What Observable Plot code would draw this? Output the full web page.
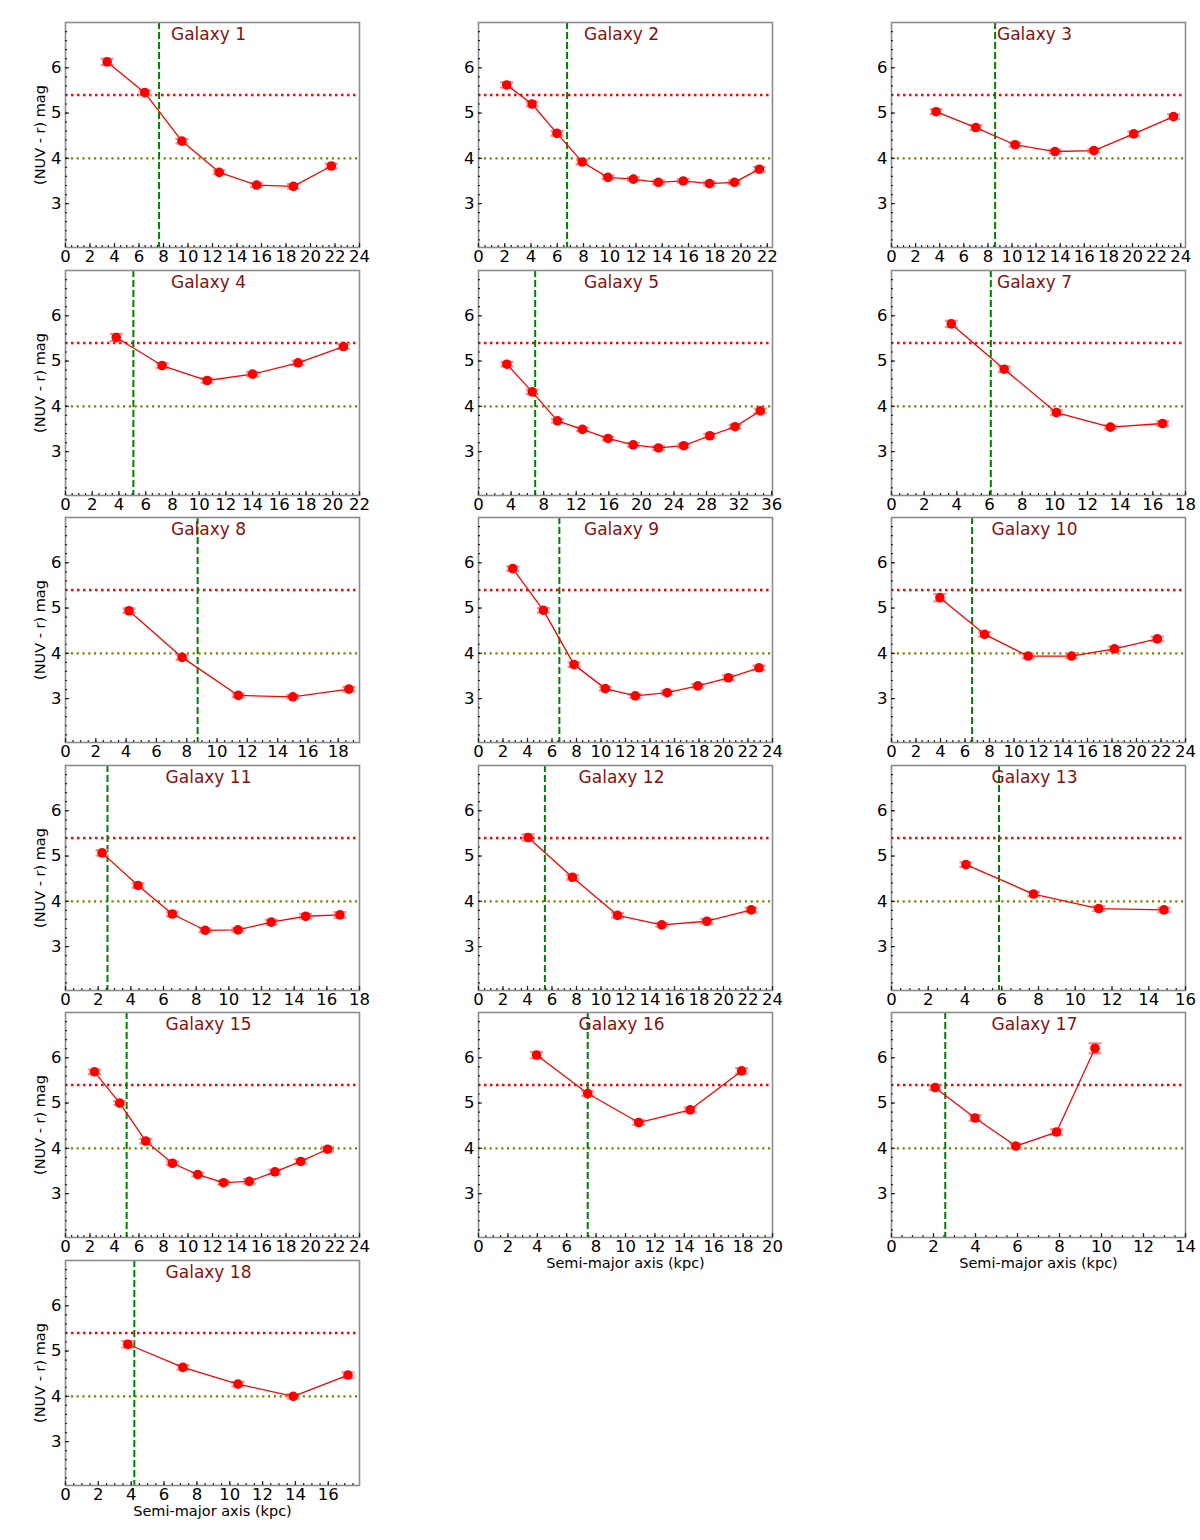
<!DOCTYPE html>
<html>
<head>
<meta charset="utf-8">
<script src="https://cdn.jsdelivr.net/npm/d3@7"></script>
<script src="https://cdn.jsdelivr.net/npm/@observablehq/plot@0.6"></script>
<style>
  body { margin: 0; background: white; }
  #chart { position: relative; width: 1200px; height: 1540px; background: white; overflow: visible; }
  #chart > div { position: absolute; width: 413px; }
  #chart svg { max-width: none !important; }
</style>
</head>
<body>
<div id="chart"></div>
<script>
// one panel per galaxy
const galaxies = ["Galaxy 1", "Galaxy 2", "Galaxy 3", "Galaxy 4", "Galaxy 5", "Galaxy 7",
  "Galaxy 8", "Galaxy 9", "Galaxy 10", "Galaxy 11", "Galaxy 12", "Galaxy 13",
  "Galaxy 15", "Galaxy 16", "Galaxy 17", "Galaxy 18"];

// semi-major axis (kpc)
const radius = [
  [3.4, 6.47, 9.5, 12.55, 15.6, 18.6, 21.7],
  [2.15, 4.08, 5.98, 7.9, 9.86, 11.8, 13.7, 15.6, 17.6, 19.5, 21.4],
  [3.7, 7.0, 10.26, 13.57, 16.8, 20.1, 23.4],
  [3.8, 7.23, 10.6, 14.0, 17.4, 20.8],
  [3.48, 6.6, 9.7, 12.77, 15.9, 19.0, 22.1, 25.2, 28.4, 31.5, 34.6],
  [3.66, 6.9, 10.1, 13.4, 16.6],
  [4.19, 7.7, 11.4, 15.0, 18.7],
  [2.8, 5.3, 7.8, 10.35, 12.8, 15.4, 17.9, 20.4, 22.9],
  [3.95, 7.6, 11.15, 14.7, 18.2, 21.7],
  [2.24, 4.44, 6.54, 8.55, 10.56, 12.6, 14.7, 16.8],
  [4.05, 7.67, 11.35, 14.96, 18.64, 22.26],
  [4.05, 7.73, 11.28, 14.83],
  [2.37, 4.43, 6.55, 8.73, 10.8, 12.9, 15.0, 17.1, 19.2, 21.4],
  [3.95, 7.43, 10.9, 14.4, 17.9],
  [2.08, 3.98, 5.92, 7.86, 9.69],
  [3.79, 7.15, 10.5, 13.87, 17.2]
];

// (NUV - r) colour (mag)
const colour = [
  [6.13, 5.45, 4.38, 3.69, 3.41, 3.38, 3.83],
  [5.62, 5.2, 4.55, 3.92, 3.58, 3.54, 3.47, 3.5, 3.44, 3.47, 3.76],
  [5.03, 4.68, 4.3, 4.15, 4.17, 4.54, 4.92],
  [5.52, 4.9, 4.57, 4.71, 4.96, 5.32],
  [4.93, 4.32, 3.68, 3.49, 3.29, 3.15, 3.08, 3.13, 3.35, 3.55, 3.9],
  [5.82, 4.82, 3.86, 3.54, 3.62],
  [4.94, 3.91, 3.07, 3.04, 3.21],
  [5.87, 4.95, 3.75, 3.22, 3.06, 3.13, 3.28, 3.46, 3.68],
  [5.23, 4.42, 3.94, 3.94, 4.1, 4.32],
  [5.07, 4.35, 3.72, 3.36, 3.37, 3.54, 3.67, 3.7],
  [5.41, 4.53, 3.69, 3.48, 3.56, 3.81],
  [4.81, 4.16, 3.84, 3.81],
  [5.69, 5.0, 4.16, 3.67, 3.42, 3.24, 3.27, 3.48, 3.71, 3.98],
  [6.06, 5.21, 4.57, 4.85, 5.71],
  [5.34, 4.67, 4.05, 4.36, 6.21],
  [5.15, 4.64, 4.27, 4.0, 4.47]
];

// colour errors (mag)
const colourErr = [
  [0.07, 0.05, 0.05, 0.04, 0.04, 0.05, 0.05],
  [0.06, 0.05, 0.05, 0.05, 0.04, 0.04, 0.04, 0.04, 0.04, 0.04, 0.05],
  [0.05, 0.05, 0.04, 0.04, 0.04, 0.05, 0.05],
  [0.08, 0.05, 0.05, 0.05, 0.05, 0.05],
  [0.05, 0.05, 0.04, 0.04, 0.04, 0.04, 0.04, 0.04, 0.04, 0.04, 0.05],
  [0.07, 0.06, 0.05, 0.04, 0.05],
  [0.05, 0.05, 0.04, 0.04, 0.05],
  [0.05, 0.05, 0.05, 0.04, 0.04, 0.04, 0.04, 0.05, 0.05],
  [0.08, 0.05, 0.05, 0.05, 0.05, 0.05],
  [0.06, 0.05, 0.05, 0.04, 0.04, 0.05, 0.05, 0.06],
  [0.07, 0.05, 0.05, 0.04, 0.05, 0.05],
  [0.05, 0.05, 0.05, 0.05],
  [0.05, 0.04, 0.05, 0.04, 0.04, 0.04, 0.05, 0.05, 0.05, 0.05],
  [0.07, 0.05, 0.05, 0.05, 0.06],
  [0.05, 0.06, 0.05, 0.06, 0.11],
  [0.07, 0.05, 0.05, 0.05, 0.06]
];

// green dashed vertical line (kpc)
const transition = [7.64, 6.75, 8.6, 5.08, 6.96, 6.08, 8.72, 6.6, 6.58, 2.57, 5.42, 5.85, 4.99, 7.43, 2.56, 4.19];

// x axis extent and major tick step
const xMax = [24, 22.4, 24.4, 22, 36.1, 18, 19.4, 24, 24, 18, 24, 16, 24, 20, 14, 17.9];
const xStep = [2, 2, 2, 2, 4, 2, 2, 2, 2, 2, 2, 2, 2, 2, 2, 2];

const yDomain = [2.03, 7.0];
const yTicks = [3, 4, 5, 6];
const redLimit = 5.4;
const olivLimit = 4.0;

const xLabelPanels = ["Galaxy 16", "Galaxy 17", "Galaxy 18"];

const cap = {
  draw(ctx) { ctx.moveTo(-6.5, 0); ctx.lineTo(6.5, 0); }
};

const W = 413, fw = 294, fh = 225, mt = 22, mb = 55;
const rowStep = 247.6;

galaxies.forEach((name, i) => {
  const col = i % 3, row = Math.floor(i / 3);
  const rows = radius[i].map((r, k) => ({r, c: colour[i][k], e: colourErr[i][k]}));
  const majorX = d3.range(0, xMax[i] + 1e-6, xStep[i]);
  const minorX = d3.range(0, xMax[i] + 1e-6, xStep[i] / 4);
  const minorY = d3.range(2.2, 7.0, 0.2);

  const marks = [
    Plot.ruleY([redLimit], {stroke: "#ff0000", strokeWidth: 2.5, strokeDasharray: "2.5,3.5"}),
    Plot.ruleY([olivLimit], {stroke: "#808000", strokeWidth: 2.2, strokeDasharray: "2.2,3.6"}),
    Plot.ruleX([transition[i]], {stroke: "#008000", strokeWidth: 2, strokeDasharray: "7,3"}),
    Plot.ruleX(rows, {x: "r", y1: d => d.c - d.e, y2: d => d.c + d.e, stroke: "#ff8080", strokeWidth: 1.5}),
    Plot.dot(rows, {x: "r", y: d => d.c - d.e, r: 3, symbol: cap, fill: "none", stroke: "#ff8a8a", strokeWidth: 2.2}),
    Plot.dot(rows, {x: "r", y: d => d.c + d.e, r: 3, symbol: cap, fill: "none", stroke: "#ff8a8a", strokeWidth: 2.2}),
    Plot.line(rows, {x: "r", y: "c", stroke: "#ff0000", strokeWidth: 1.3}),
    Plot.dot(rows, {x: "r", y: "c", r: 4.8, fill: "#ff0000"}),
    Plot.text([name], {frameAnchor: "top", text: d => d, dx: -4, dy: 12, lineAnchor: "middle",
      fill: "#8b0f0f", fontSize: 17}),
    Plot.frame({stroke: "#8c8c8c", strokeWidth: 1.6}),
    Plot.tickX(minorX, {x: d => d, insetTop: fh - 2, stroke: "#222", strokeWidth: 1.2}),
    Plot.tickX(majorX, {x: d => d, insetTop: fh - 4, stroke: "#222", strokeWidth: 1.2}),
    Plot.tickY(minorY, {y: d => d, insetRight: fw - 2, stroke: "#222", strokeWidth: 1.2}),
    Plot.tickY(yTicks, {y: d => d, insetRight: fw - 4, stroke: "#222", strokeWidth: 1.2}),
    Plot.axisX({ticks: majorX, tickSize: 0, tickPadding: 3, fontSize: 16.5, label: null, tickFormat: d => `${d}`}),
    Plot.axisY({ticks: yTicks, tickSize: 0, tickPadding: 4, fontSize: 16.5, label: null, tickFormat: d => `${d}`})
  ];
  if (col === 0) {
    marks.push(Plot.text(["(NUV - r) mag"], {frameAnchor: "left", text: d => d, rotate: -90, dx: -25,
      textAnchor: "middle", fontSize: 14.5, fill: "black"}));
  }
  if (xLabelPanels.includes(name)) {
    marks.push(Plot.text(["Semi-major axis (kpc)"], {frameAnchor: "bottom", text: d => d, dy: 26,
      lineAnchor: "middle", fontSize: 14.5, fill: "black"}));
  }

  const chart = Plot.plot({
    width: W,
    height: mt + fh + mb,
    marginLeft: 65,
    marginRight: W - 65 - fw,
    marginTop: mt,
    marginBottom: mb,
    x: {domain: [0, xMax[i]]},
    y: {domain: yDomain},
    style: {background: "transparent", fontFamily: "DejaVu Sans", color: "black", overflow: "visible", maxWidth: "none"},
    marks
  });

  const holder = d3.select("#chart").append("div")
    .style("left", `${col * 413}px`)
    .style("top", `${Math.round(row * rowStep)}px`);
  holder.append(() => chart);
});
</script>
</body>
</html>
